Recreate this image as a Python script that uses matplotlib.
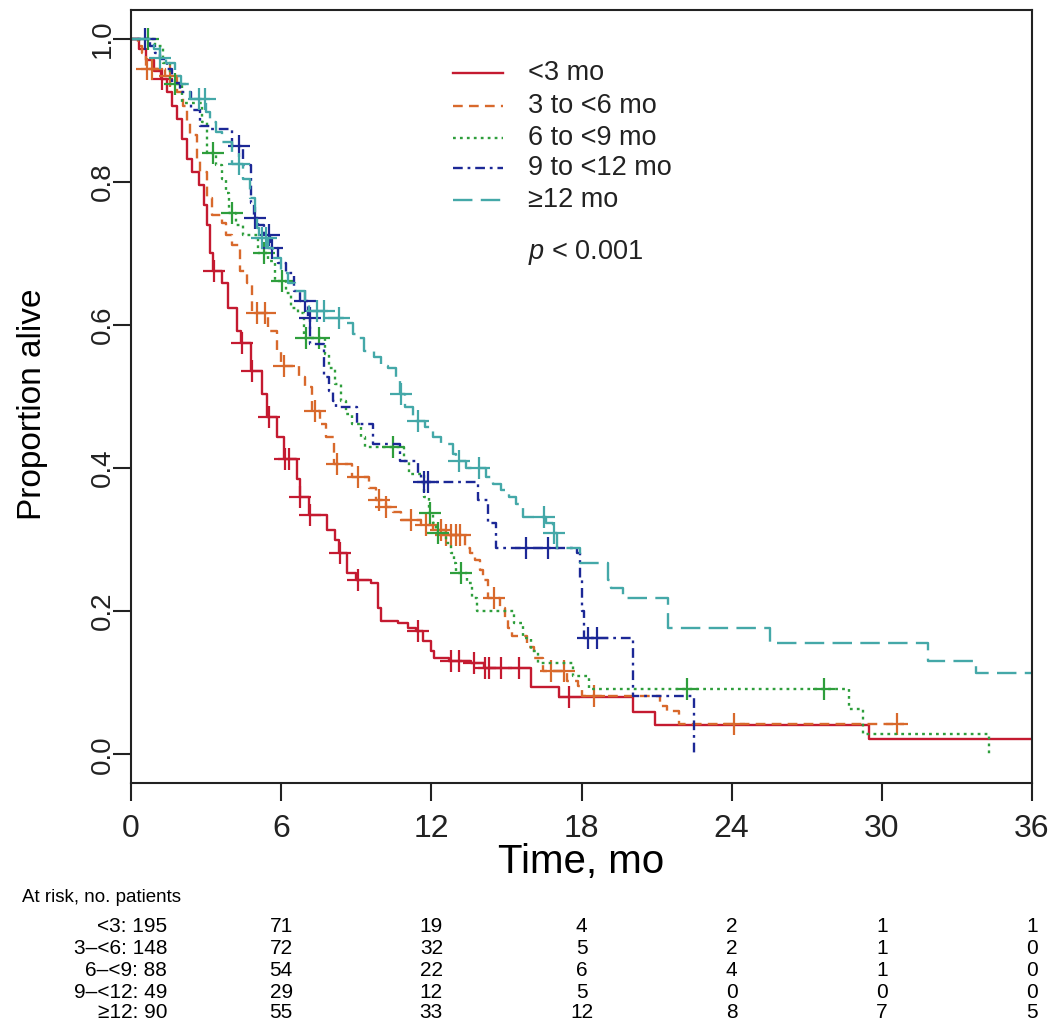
import numpy as np
import matplotlib
matplotlib.use('Agg')
import matplotlib.pyplot as plt
from matplotlib.transforms import blended_transform_factory

plt.rcParams['font.family'] = ['Liberation Sans', 'DejaVu Sans']
plt.rcParams['mathtext.fontset'] = 'custom'
plt.rcParams['mathtext.it'] = 'Liberation Sans:italic'
plt.rcParams['mathtext.rm'] = 'Liberation Sans'
plt.rcParams['lines.scale_dashes'] = False
NARROW = ['Liberation Sans Narrow', 'Liberation Sans', 'DejaVu Sans']

# Kaplan-Meier step knots (time in months, proportion alive after the step)
red_t = [0.3, 0.6, 0.9, 1.2, 1.45, 1.65, 1.85, 2.05, 2.25, 2.45, 2.7, 2.9, 3.05, 3.16, 3.28,
         3.64, 3.88, 4.25, 4.4, 4.8, 5.25, 5.45, 5.85, 6.1, 6.65, 6.75, 7.1, 7.85, 8.17, 8.3,
         8.65, 9.0, 9.57, 9.85, 9.97, 10.65, 11.05, 11.4, 11.65, 11.97, 12.1, 12.7, 13.6, 14.1,
         15.98, 17.1, 20.06, 20.95, 29.5]
red_s = [0.985, 0.97, 0.955, 0.944, 0.925, 0.906, 0.888, 0.86, 0.832, 0.813, 0.795, 0.767, 0.739,
         0.70, 0.676, 0.658, 0.624, 0.592, 0.575, 0.536, 0.504, 0.471, 0.443, 0.413, 0.385, 0.359,
         0.334, 0.313, 0.299, 0.282, 0.253, 0.243, 0.239, 0.205, 0.187, 0.183, 0.177, 0.173, 0.159,
         0.145, 0.134, 0.131, 0.127, 0.12, 0.094, 0.080, 0.059, 0.041, 0.021]
red_cens = [1.25, 3.3, 4.45, 4.85, 5.5, 6.17, 6.3, 6.77, 7.17, 8.37, 9.05, 11.45, 12.78, 13.1,
            13.7, 14.15, 14.3, 14.78, 15.5, 17.5]
red_end = 36

orange_t = [0.28, 0.44, 0.6, 1.36, 1.84, 2.08, 2.24, 2.36, 2.64, 2.76, 3.04, 3.24, 3.64, 3.8, 4.04,
            4.37, 4.65, 4.85, 5.49, 5.85, 6.0, 6.7, 6.97, 7.25, 7.57, 7.8, 8.1, 8.85, 9.5, 9.77,
            10.17, 10.45, 10.77, 11.57, 12.05, 12.57, 13.34, 13.54, 13.74, 13.94, 14.06, 14.26,
            14.74, 14.94, 15.06, 15.22, 15.82, 16.1, 16.46, 17.42, 17.86, 18.02, 21.15, 21.43, 21.9]
orange_s = [0.99, 0.98, 0.958, 0.948, 0.925, 0.906, 0.883, 0.865, 0.832, 0.813, 0.777, 0.753, 0.743,
            0.725, 0.711, 0.676, 0.658, 0.616, 0.592, 0.564, 0.543, 0.527, 0.513, 0.48, 0.462, 0.443,
            0.406, 0.387, 0.372, 0.355, 0.345, 0.338, 0.327, 0.320, 0.313, 0.307, 0.289, 0.281,
            0.271, 0.257, 0.243, 0.219, 0.205, 0.191, 0.177, 0.166, 0.15, 0.135, 0.117, 0.103,
            0.096, 0.082, 0.068, 0.061, 0.042]
orange_cens = [0.64, 0.85, 1.56, 5.05, 5.37, 6.1, 7.37, 8.25, 9.05, 9.9, 10.2, 11.2, 11.8, 12.4,
               12.6, 12.8, 13.0, 13.15, 14.5, 16.8, 17.3, 18.5, 24.1, 30.6]
orange_end = 30.9

green_t = [0.96, 1.28, 1.56, 2.04, 2.84, 3.04, 3.4, 3.64, 3.8, 3.92, 4.2, 4.49, 5.09, 5.49, 5.77,
           6.2, 6.4, 6.69, 6.93, 7.77, 7.93, 8.17, 8.41, 8.61, 8.85, 9.17, 9.33, 10.9, 11.1, 11.7,
           11.9, 12.05, 12.17, 12.57, 12.78, 12.9, 13.0, 13.42, 13.62, 13.82, 15.3, 15.66, 15.98,
           16.26, 17.66, 18.3, 28.67, 29.23, 34.28]
green_s = [0.99, 0.966, 0.937, 0.91, 0.883, 0.84, 0.823, 0.804, 0.785, 0.757, 0.739, 0.725, 0.70,
           0.69, 0.662, 0.644, 0.624, 0.616, 0.582, 0.56, 0.54, 0.518, 0.494, 0.476, 0.462, 0.443,
           0.43, 0.41, 0.392, 0.359, 0.337, 0.323, 0.309, 0.295, 0.281, 0.267, 0.253, 0.239, 0.219,
           0.201, 0.183, 0.163, 0.145, 0.127, 0.11, 0.092, 0.063, 0.029, 0.0]
green_cens = [0.68, 1.76, 3.28, 4.05, 5.3, 6.05, 7.0, 7.5, 10.45, 11.95, 12.25, 13.2, 22.2, 27.7]
green_end = 34.28

blue_t = [0.76, 0.96, 1.16, 1.44, 1.64, 1.96, 2.4, 2.76, 3.16, 4.04, 4.49, 4.8, 4.93, 5.09, 5.33,
          5.57, 5.89, 6.21, 6.53, 6.77, 7.09, 7.17, 7.73, 7.93, 8.09, 8.2, 9.01, 9.65, 10.73, 11.45,
          11.57, 13.86, 14.26, 14.58, 17.82, 17.94, 18.02, 18.1, 20.06, 22.5]
blue_s = [0.99, 0.98, 0.972, 0.958, 0.938, 0.925, 0.90, 0.878, 0.874, 0.85, 0.823, 0.771, 0.749,
          0.739, 0.725, 0.708, 0.686, 0.672, 0.648, 0.634, 0.61, 0.574, 0.527, 0.508, 0.494, 0.485,
          0.462, 0.434, 0.41, 0.392, 0.38, 0.355, 0.323, 0.288, 0.281, 0.245, 0.2, 0.163, 0.082, 0.0]
blue_cens = [0.56, 4.3, 4.95, 5.5, 5.65, 6.95, 7.15, 11.7, 11.85, 15.8, 16.65, 18.25, 18.6]
blue_end = 22.5

teal_t = [0.9, 1.16, 1.4, 1.76, 2.0, 2.36, 3.0, 3.16, 3.4, 3.64, 4.04, 4.49, 4.77, 4.97, 5.05, 5.13,
          5.49, 5.69, 6.01, 6.29, 6.57, 6.97, 7.13, 7.77, 8.53, 8.89, 9.09, 9.29, 9.69, 9.97, 10.25,
          10.57, 10.73, 10.93, 11.25, 11.73, 12.05, 12.37, 12.86, 12.98, 13.38, 14.18, 14.46, 14.78,
          15.1, 15.38, 15.66, 16.58, 16.86, 17.02, 17.94, 19.06, 19.18, 19.66, 21.47, 25.55, 31.84,
          33.76]
teal_s = [0.985, 0.973, 0.966, 0.948, 0.937, 0.916, 0.897, 0.883, 0.869, 0.855, 0.825, 0.804, 0.777,
          0.749, 0.736, 0.722, 0.708, 0.694, 0.672, 0.658, 0.648, 0.63, 0.62, 0.61, 0.602, 0.588,
          0.582, 0.564, 0.555, 0.543, 0.54, 0.522, 0.504, 0.485, 0.466, 0.457, 0.443, 0.434, 0.42,
          0.41, 0.40, 0.387, 0.378, 0.369, 0.359, 0.35, 0.331, 0.323, 0.309, 0.289, 0.267, 0.243,
          0.233, 0.219, 0.177, 0.155, 0.131, 0.113]
teal_cens = [1.16, 2.7, 2.95, 4.3, 5.25, 5.4, 7.45, 7.7, 8.3, 10.8, 11.45, 13.1, 13.9, 16.5, 16.9]
teal_end = 36

labels = ['<3 mo', '3 to <6 mo', '6 to <9 mo', '9 to <12 mo', '\u226512 mo']
colors = ['#c41a30', '#d8692c', '#2e9e3c', '#1c2896', '#44a8a8']
styles = ['-', (0, (7, 4.5)), (0, (2, 3)), (0, (7, 3.5, 2, 3.5)), (0, (14, 6))]

risk_times = [0, 6, 12, 18, 24, 30, 36]
risk_names = ['<3', '3\u2013<6', '6\u2013<9', '9\u2013<12', '\u226512']
risk_counts = [
    [195, 71, 19, 4, 2, 1, 1],
    [148, 72, 32, 5, 2, 1, 0],
    [88, 54, 22, 6, 4, 1, 0],
    [49, 29, 12, 5, 0, 0, 0],
    [90, 55, 33, 12, 8, 7, 5],
]

groups = [
    (red_t, red_s, red_cens, red_end),
    (orange_t, orange_s, orange_cens, orange_end),
    (green_t, green_s, green_cens, green_end),
    (blue_t, blue_s, blue_cens, blue_end),
    (teal_t, teal_s, teal_cens, teal_end),
]

fig = plt.figure(figsize=(10.5, 10.27), dpi=100)
ax = fig.add_axes([131 / 1050, 1 - 783 / 1027, 901 / 1050, 773 / 1027])

for (t, s, cens, end), col, ls in zip(groups, colors, styles):
    tt = np.r_[0, t]
    ss = np.r_[1.0, s]
    if end > tt[-1]:
        tt = np.r_[tt, end]
        ss = np.r_[ss, ss[-1]]
    ax.step(tt, ss, where='post', color=col, lw=1.7, ls=ls)
    # censor marks sit on the curve
    idx = np.searchsorted(np.r_[0, t], cens, side='right') - 1
    cy = np.r_[1.0, s][idx]
    ax.plot(cens, cy, ls='none', marker='+', ms=16, mew=1.6, color=col)

ax.set_xlim(0, 36)
ax.set_ylim(-0.04, 1.04)
ax.set_xticks(risk_times)
ax.set_yticks([0, 0.2, 0.4, 0.6, 0.8, 1.0])
ax.set_yticklabels(['0.0', '0.2', '0.4', '0.6', '0.8', '1.0'], rotation=90, va='center',
                   fontsize=20)
ax.set_xticklabels([str(v) for v in risk_times], fontsize=23, family=NARROW)
ax.tick_params(axis='both', direction='out', length=13, width=1.5, colors='#222222')
ax.tick_params(axis='y', pad=-2)
ax.tick_params(axis='x', pad=9)
for sp in ax.spines.values():
    sp.set_linewidth(1.5)
    sp.set_color('#222222')

ax.set_ylabel('Proportion alive', fontsize=24)
ax.yaxis.set_label_coords(-0.092, 0.49)
ax.set_xlabel('Time, mo', fontsize=29, family=NARROW, va='top')
ax.xaxis.set_label_coords(0.5, -0.077)

# legend drawn in axes coordinates
leg_y = [0.918, 0.876, 0.835, 0.795, 0.754]
for y, lab, col, ls in zip(leg_y, labels, colors, styles):
    ax.plot([0.357, 0.413], [y, y], transform=ax.transAxes, color=col, ls=ls, lw=1.7)
    ax.text(0.441, y, lab, transform=ax.transAxes, va='center', ha='left', fontsize=19.5,
            color='#222222')
ax.text(0.441, 0.686, '$p$ < 0.001', transform=ax.transAxes, va='center', ha='left',
        fontsize=19.5, color='#222222')

# number at risk table
tr = blended_transform_factory(ax.transData, fig.transFigure)
fig.text(22 / 1050, 1 - 898 / 1027, 'At risk, no. patients', fontsize=13.5, family=NARROW,
         va='center', ha='left')
row_y = [926, 948, 970, 992, 1013]
for name, counts, ypx in zip(risk_names, risk_counts, row_y):
    yf = 1 - ypx / 1027
    fig.text(167 / 1050, yf, f'{name}: {counts[0]}', fontsize=15, family=NARROW,
             va='center', ha='right')
    for tm, c in zip(risk_times[1:], counts[1:]):
        ax.text(tm, yf, str(c), transform=tr, fontsize=15, family=NARROW, va='center',
                ha='center', clip_on=False)

fig.savefig('out.png', dpi=100)
